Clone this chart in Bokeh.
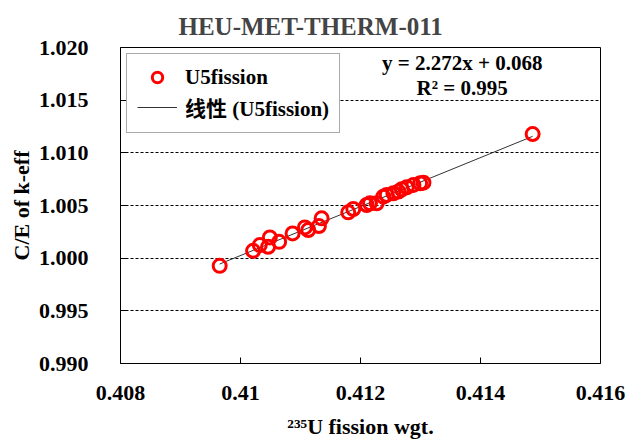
import numpy as np
from bokeh.plotting import figure
from bokeh.models import Range1d, FixedTicker, Label, Legend, LegendItem
from bokeh.embed import file_html
from bokeh.resources import INLINE

# U-235 fission weight and C/E of k-eff per case
fission_wgt = [0.409653, 0.410210, 0.410322, 0.410460, 0.410489, 0.410644,
               0.410868, 0.411073, 0.411129, 0.411307, 0.411352, 0.411796,
               0.411880, 0.412103, 0.412158, 0.412270, 0.412381, 0.412437,
               0.412548, 0.412632, 0.412688, 0.412771, 0.412882, 0.412994,
               0.413049, 0.414869]
ce_keff = [0.99927, 1.00070, 1.00124, 1.00108, 1.00197, 1.00155,
           1.00235, 1.00292, 1.00267, 1.00305, 1.00378, 1.00435,
           1.00467, 1.00505, 1.00521, 1.00521, 1.00584, 1.00600,
           1.00616, 1.00632, 1.00654, 1.00673, 1.00695, 1.00711,
           1.00717, 1.01178]

x_ticks = [0.408, 0.410, 0.412, 0.414, 0.416]
x_tick_labels = ["0.408", "0.41", "0.412", "0.414", "0.416"]
y_ticks = [0.990, 0.995, 1.000, 1.005, 1.010, 1.015, 1.020]
y_tick_labels = ["0.990", "0.995", "1.000", "1.005", "1.010", "1.015", "1.020"]

title_text = "HEU-MET-THERM-011"
fit_text = ["y = 2.272x + 0.068", "R² = 0.995"]

FONT = "Liberation Serif, Noto Sans CJK SC"

p = figure(width=627, height=441, output_backend="svg", toolbar_location=None,
           x_range=Range1d(0.408, 0.416), y_range=Range1d(0.990, 1.020),
           min_border_left=120, min_border_right=27, min_border_top=47,
           min_border_bottom=78)
p.background_fill_color = "white"
p.border_fill_color = "white"
p.outline_line_color = "black"
p.outline_line_width = 1

p.title.text = title_text
p.title.text_font = FONT
p.title.text_font_size = "25px"
p.title.text_font_style = "bold"
p.title.align = "left"
p.title.offset = 58
p.title.standoff = 16

# axes
p.xaxis.ticker = FixedTicker(ticks=x_ticks)
p.xaxis.major_label_overrides = dict(zip(x_ticks, x_tick_labels))
p.yaxis.ticker = FixedTicker(ticks=y_ticks)
p.yaxis.major_label_overrides = dict(zip(y_ticks, y_tick_labels))
for ax in (p.xaxis, p.yaxis):
    ax.axis_line_color = None
    ax.major_tick_in = 6
    ax.major_tick_out = 0
    ax.minor_tick_line_color = None
    ax.major_tick_line_color = "black"
    ax.major_label_text_font = FONT
    ax.major_label_text_font_style = "bold"
    ax.major_label_text_font_size = "22px"
    ax.major_label_text_color = "black"
    ax.axis_label_text_font = FONT
    ax.axis_label_text_font_style = "bold"
    ax.axis_label_text_font_size = "22px"
    ax.axis_label_text_color = "black"
p.xaxis.axis_label = "²³⁵U fission wgt."
p.yaxis.axis_label = "C/E of k-eff"
p.xaxis.major_label_standoff = 22
p.xaxis.axis_label_standoff = 11
p.yaxis.major_label_standoff = 32
p.yaxis.axis_label_standoff = 2

p.xgrid.grid_line_color = None
p.ygrid.grid_line_color = "black"
p.ygrid.grid_line_dash = "3 2"
p.ygrid.grid_line_width = 1

# least-squares trend line over the data span
slope, intercept = np.polyfit(fission_wgt, ce_keff, 1)
x_line = [min(fission_wgt), max(fission_wgt)]
y_line = [slope * v + intercept for v in x_line]
trend = p.line(x_line, y_line, line_color="#333333", line_width=1)

pts = p.scatter(fission_wgt, ce_keff, marker="circle", size=13,
                fill_color=None, line_color="red", line_width=3)

legend = Legend(items=[LegendItem(label="U5fission", renderers=[pts]),
                       LegendItem(label="线性 (U5fission)", renderers=[trend])],
                location="top_left", margin=6, padding=10, spacing=2,
                glyph_width=40, glyph_height=26, label_standoff=8,
                label_text_font=FONT, label_text_font_style="bold",
                label_text_font_size="21px", label_text_color="black",
                border_line_color="#555555", border_line_width=1.5,
                background_fill_color="white", background_fill_alpha=1)
p.add_layout(legend, "center")

for txt, yv in zip(fit_text, [1.01857, 1.01619]):
    p.add_layout(Label(x=0.413695, y=yv, text=txt, text_align="center",
                       text_baseline="middle", text_font=FONT,
                       text_font_style="bold", text_font_size="21px",
                       text_color="black"))

open("out.html", "w").write(file_html(p, INLINE))
